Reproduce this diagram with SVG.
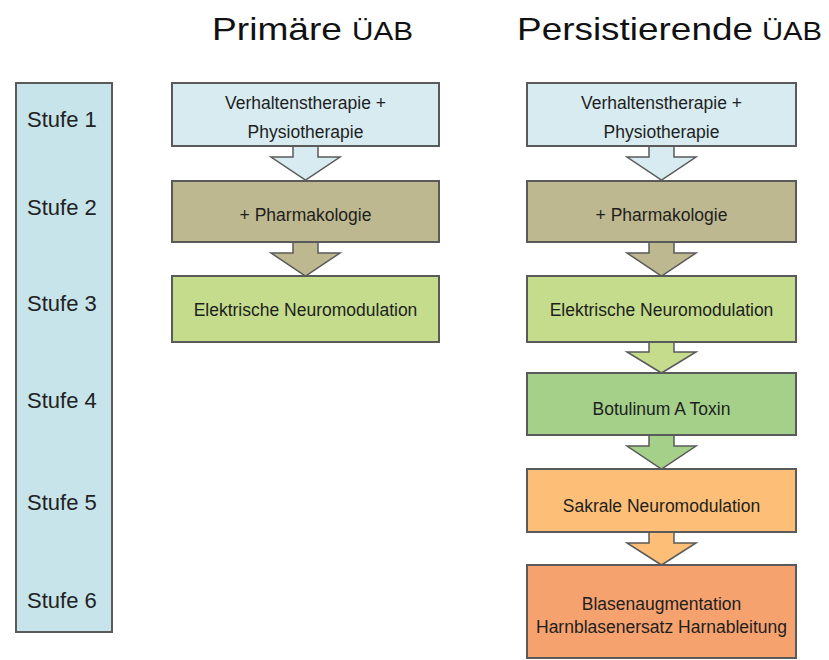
<svg xmlns="http://www.w3.org/2000/svg" width="829" height="660" viewBox="0 0 829 660">
<style>
  .box { stroke: #5a5a5a; stroke-width: 2; }
  .arr { stroke: #5a5a5a; stroke-width: 1.5; stroke-linejoin: miter; }
  .t { font-family: "Liberation Sans", Arial, sans-serif; font-size: 17.5px; fill: #1e1e1e; text-anchor: middle; }
  .stufe { font-family: "Liberation Sans", Arial, sans-serif; font-size: 22px; fill: #222; }
  .h1 { font-family: "Liberation Sans", Arial, sans-serif; font-size: 32px; fill: #111; }
  .h2 { font-family: "Liberation Sans", Arial, sans-serif; font-size: 26px; fill: #111; }
  .c1 { fill: #d7ebf0; } .c2 { fill: #bdb88f; } .c3 { fill: #c4dc8b; }
  .c4 { fill: #a4d08a; } .c5 { fill: #fdbf77; } .c6 { fill: #f6a26f; }
</style>
<rect width="829" height="660" fill="#ffffff"/>
<g id="titles">
  <text class="h1" x="212" y="40" textLength="130" lengthAdjust="spacingAndGlyphs">Primäre</text>
  <text class="h2" x="352" y="40" textLength="61" lengthAdjust="spacingAndGlyphs">ÜAB</text>
  <text class="h1" x="517" y="40" textLength="236" lengthAdjust="spacingAndGlyphs">Persistierende</text>
  <text class="h2" x="762" y="40" textLength="60" lengthAdjust="spacingAndGlyphs">ÜAB</text>
</g>
<g id="stufen">
  <rect x="16" y="83" width="96" height="549" fill="#c6e4ea" class="box"/>
  <text class="stufe" x="27" y="127">Stufe 1</text>
  <text class="stufe" x="27" y="215">Stufe 2</text>
  <text class="stufe" x="27" y="311">Stufe 3</text>
  <text class="stufe" x="27" y="408">Stufe 4</text>
  <text class="stufe" x="27" y="510">Stufe 5</text>
  <text class="stufe" x="27" y="608">Stufe 6</text>
</g>
<g id="connectors">
  <path class="arr c1" d="M293,146 L318,146 L318,157 L340,157 L305.5,180 L271,157 L293,157 Z"/>
  <path class="arr c2" d="M293,242 L318,242 L318,253 L340,253 L305.5,276 L271,253 L293,253 Z"/>
  <path class="arr c1" d="M649,146 L674,146 L674,157 L696,157 L661.5,180 L627,157 L649,157 Z"/>
  <path class="arr c2" d="M649,242 L674,242 L674,253 L696,253 L661.5,276 L627,253 L649,253 Z"/>
  <path class="arr c3" d="M649,342 L674,342 L674,352 L696,352 L661.5,373 L627,352 L649,352 Z"/>
  <path class="arr c4" d="M649,435 L674,435 L674,446 L696,446 L661.5,469 L627,446 L649,446 Z"/>
  <path class="arr c5" d="M649,532 L674,532 L674,543 L696,543 L661.5,565 L627,543 L649,543 Z"/>
</g>
<g id="p1">
  <rect class="box c1" x="172" y="83" width="267" height="63"/>
  <text class="t" x="305.5" y="109">Verhaltenstherapie +</text>
  <text class="t" x="305.5" y="138">Physiotherapie</text>
</g>
<g id="p2">
  <rect class="box c2" x="172" y="181" width="267" height="61"/>
  <text class="t" x="305.5" y="221">+ Pharmakologie</text>
</g>
<g id="p3">
  <rect class="box c3" x="172" y="276" width="267" height="66"/>
  <text class="t" x="305.5" y="316">Elektrische Neuromodulation</text>
</g>
<g id="s1">
  <rect class="box c1" x="527" y="83" width="269" height="63"/>
  <text class="t" x="661.5" y="109">Verhaltenstherapie +</text>
  <text class="t" x="661.5" y="138">Physiotherapie</text>
</g>
<g id="s2">
  <rect class="box c2" x="527" y="181" width="269" height="61"/>
  <text class="t" x="661.5" y="221">+ Pharmakologie</text>
</g>
<g id="s3">
  <rect class="box c3" x="527" y="276" width="269" height="66"/>
  <text class="t" x="661.5" y="316">Elektrische Neuromodulation</text>
</g>
<g id="s4">
  <rect class="box c4" x="527" y="373" width="269" height="62"/>
  <text class="t" x="661.5" y="415">Botulinum A Toxin</text>
</g>
<g id="s5">
  <rect class="box c5" x="527" y="469" width="269" height="63"/>
  <text class="t" x="661.5" y="512">Sakrale Neuromodulation</text>
</g>
<g id="s6">
  <rect class="box c6" x="527" y="565" width="269" height="93"/>
  <text class="t" x="661.5" y="610">Blasenaugmentation</text>
  <text class="t" x="661.5" y="633">Harnblasenersatz Harnableitung</text>
</g>
</svg>
